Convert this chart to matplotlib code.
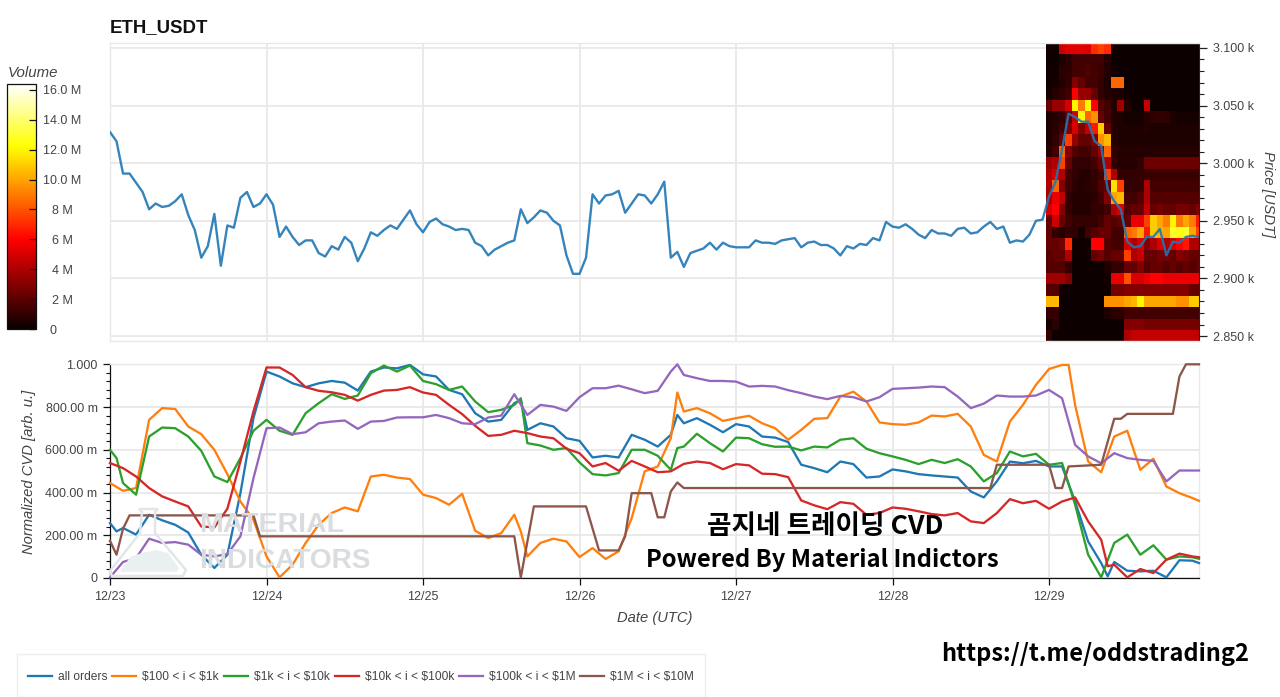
import numpy as np
import matplotlib
matplotlib.use('Agg')
import matplotlib.pyplot as plt
from matplotlib.colors import Normalize
from matplotlib.patches import Rectangle, Polygon

W, H = 1280, 697
GREY = '#444444'
GRID = '#e8e8e8'
plt.rcParams['font.family'] = ['Liberation Sans', 'DejaVu Sans']

# ---------- data ----------
DAY_LABELS = ['12/23', '12/24', '12/25', '12/26', '12/27', '12/28', '12/29']
PRICE = [3027,3019,2991,2991,2983,2975,2960,2965,2962,2963,2967,2973,2955,2942,2918,2928,2956,2911,2946,2944,
         2970,2975,2962,2965,2973,2964,2936,2945,2936,2929,2933,2933,2922,2919,2928,2925,2936,2931,2915,2926,
         2940,2937,2942,2946,2943,2951,2959,2947,2940,2949,2952,2947,2945,2942,2943,2942,2931,2928,2920,2925,
         2928,2931,2933,2960,2948,2953,2959,2957,2950,2946,2920,2904,2904,2918,2973,2965,2972,2973,2976,2957,
         2965,2973,2972,2965,2973,2984,2918,2923,2910,2922,2924,2926,2931,2925,2931,2928,2927,2927,2927,2933,
         2931,2931,2930,2933,2934,2935,2927,2931,2932,2929,2929,2926,2920,2928,2926,2930,2929,2935,2933,2949,
         2945,2944,2947,2943,2938,2935,2942,2939,2939,2937,2943,2944,2939,2940,2945,2949,2943,2945,2931,2933,
         2932,2938,2950,2951,2971,2984,3012,3043,3040,3036,3036,3019,3015,2977,2967,2960,2932,2927,2928,2936,
         2936,2943,2920,2932,2931,2936,2937,2936]

HEAT_PRICES = [3100 - 10 * i for i in range(26)]
HEAT_VOL = [
 [.2,.2,4.8,5.2,5.2,5.4,5.2,7,7.6,7,.2,.1,.1,.1,.1,.1,.1,.1,.1,.1,.1,.1,.1,.1],
 [.1,.1,.5,.8,1.4,1.4,1.4,1.4,1.4,.7,.1,.1,.1,.1,.1,.1,.1,.1,.1,.1,.1,.1,.1,.1],
 [.2,.2,.8,.9,1.4,1.4,1.7,1.4,1.2,.7,.3,.1,.1,.1,.1,.1,.1,.1,.1,.1,.1,.1,.1,.1],
 [.2,.3,.7,1,3,2.2,1.4,1.4,1,.5,8.5,8.5,.1,.1,.1,.1,.1,.1,.1,.1,.1,.1,.1,.1],
 [.3,.7,1,1.4,6,3.4,3.4,2.2,1,.7,.5,.5,.2,.1,.1,.2,.1,.1,.1,.1,.1,.1,.1,.1],
 [2.2,3.4,3.4,5,12,9,12,6,1.8,1.4,.7,3.6,.7,.1,.1,4.5,.1,.1,.1,.1,.1,.1,.1,.1],
 [.5,.7,1,2.2,4.8,12,8.5,9.5,2.2,1.4,.7,.5,.3,.3,.3,.7,.9,1,.9,.5,.3,.3,.3,.3],
 [.5,.8,1.4,3,5,3,4.5,6.5,11,2.2,.7,.5,.5,.5,.5,.7,.5,.5,.5,.5,.5,.5,.5,.5],
 [.5,1,2.2,7.5,3.4,2.2,2.2,3,9.5,10.5,.7,.5,.5,.5,.5,.5,.5,.5,.5,.5,.5,.5,.5,.5],
 [.7,1.4,8.5,3,1.8,1.4,1.4,2.2,3.4,8.5,1,.7,.7,.7,.7,.7,.7,.7,.7,.7,.7,.7,.7,.7],
 [3.6,4,7.5,2.2,1,1,1,1.4,2.2,4,1,.7,.7,.7,1,2.4,2.4,2.4,2.4,2.4,2.4,2.4,2.4,2.4],
 [4,5,4,1.4,1,.7,.7,1,1.4,7.5,4,1,1,1,1,1.2,1.2,1.2,1.2,1.2,1.2,1.2,1.2,1.2],
 [4,8.5,3,1.4,.8,.7,.8,1,1.8,2.2,11.5,7.5,1,1,1,4,1.4,1.4,1.4,1.4,1.4,1.4,1.4,1.4],
 [4,5.5,4.5,1,.7,.7,.7,.8,1.4,3,10,10.5,1.4,1.4,1.8,4,1.8,1.8,1.8,1.8,1.8,1.8,1.8,1.8],
 [5,6,3,1,.7,.7,.7,1,1,1.4,4,5,1.8,2.2,2.2,4.5,2.2,2.6,2.2,2.2,2.6,2.6,2.2,3],
 [2.2,4.8,2.2,1.4,1,1,1,1,1.4,2.2,1.8,2.2,2.2,5.5,5.5,7.5,11,10,9,12,9,10,9,6.5],
 [2.2,1,.7,1,1,.3,1.4,1.8,2.2,2.2,1.4,1.4,8.5,9,10,6.5,11,10.5,10,13,12.5,13,10,7.5],
 [2.2,2.2,2.6,7,.2,.1,.2,6,6,1.8,1.4,1.4,5,4,5,3,4,5,4,5,6,6.5,4,4],
 [1.8,2.2,2.2,4,.1,.1,.2,2.2,2.6,1.8,2.2,2.2,7.5,4,4.5,2.2,2.2,2.6,2.6,2.2,3,2.6,2.2,2.2],
 [1.8,1.8,1.8,1,.1,.1,.1,.1,.1,.5,1,1,2.2,2.2,3,1.8,2.2,2.2,1.8,2.2,1.8,2.2,1.8,2.2],
 [3.6,3.6,3.6,3,.1,.1,.1,.1,.1,.3,5.5,5.5,8,5,5,5.5,6,6,5.5,5.5,5.5,5.5,5.5,5.5],
 [1.8,1.8,.2,.1,.1,.1,.1,.1,.1,.2,2.6,2.6,3,3,3,3,3,3,3,3,3,3,2.2,2.2],
 [10.5,10.5,.1,.1,.1,.1,.1,.1,.1,9.5,9.5,9.5,10,10.5,12,10,10,10,10,10,9.5,9.5,11,11],
 [1,1,.1,.1,.1,.1,.1,.1,.1,.5,.8,.8,1.4,1.4,1.4,1.4,1.4,1.4,1.4,1.4,1.4,1.4,1.4,1.4],
 [.3,.8,.1,.1,.1,.1,.1,.1,.1,.1,.1,.1,3,3,3,2.6,2.6,2.6,2.6,2.6,2.6,2.6,2.6,2.6],
 [1,.1,.1,.1,.1,.1,.1,.1,.1,.1,.1,.1,4,4.5,4.5,4.5,4.5,4.5,4.5,4.5,4.5,4.5,4.5,4.5],
]

CVD_HOURS = list(range(0, 168, 2)) + [167]
ALL_ORDERS = [257,234,203,296,270,249,213,109,47,109,397,748,966,943,911,893,911,922,914,877,966,985,981,997,953,
              943,880,860,771,732,740,818,693,724,709,654,642,564,572,564,670,647,615,670,724,748,717,682,720,709,662,
              657,636,530,514,495,545,533,470,475,508,499,486,480,475,470,405,377,452,545,537,548,522,522,358,171,70,75,34,31,34,3,83,81,70]
USD_100_1K = [444,408,421,740,795,791,709,673,600,486,358,273,101,3,62,164,249,304,330,312,475,483,470,463,390,
              374,343,394,221,187,210,296,101,164,184,171,98,140,89,125,280,499,522,654,779,795,771,735,748,759,724,
              701,647,693,745,748,849,872,826,728,720,717,728,760,756,768,709,576,545,732,810,904,978,997,810,545,495,662,689,506,558,428,397,374,361]
USD_1K_10K = [600,444,390,662,704,701,662,595,475,449,561,689,740,689,670,771,818,860,838,854,958,994,966,994,922,
              907,880,896,826,776,787,810,631,620,600,608,541,486,480,491,600,600,572,506,615,675,631,592,657,654,626,
              614,615,597,615,611,647,654,605,584,569,553,533,553,538,556,522,452,491,592,569,581,530,538,343,109,3,164,203,109,153,86,101,97,90]
USD_10K_100K = [538,514,475,421,382,358,335,241,237,324,545,779,985,985,950,893,876,869,857,830,857,877,880,893,868,
                857,810,767,712,665,670,689,678,662,654,605,584,522,538,502,548,522,495,499,534,545,538,509,533,527,488,
                486,472,363,340,322,355,347,296,304,330,324,312,299,293,304,265,257,304,369,350,361,324,358,377,265,179,62,3,42,23,86,114,101,97]
USD_100K_1M = [3,75,93,184,164,168,156,109,101,112,195,467,701,704,673,682,724,732,737,698,732,735,751,752,752,
               763,748,724,720,751,760,860,763,810,802,782,846,888,888,900,883,865,876,966,950,935,922,922,919,896,899,
               896,879,865,849,837,852,846,826,846,885,888,891,896,893,849,795,816,854,849,849,854,880,841,623,569,537,584,561,553,548,452,503,503,503]

EXTRA_ALL_H, EXTRA_ALL_V = [1, 63, 87, 153], [218, 834, 763, 8]
EXTRA_100_H, EXTRA_100_V = [63, 87, 147], [218, 868, 997]
EXTRA_1K_H, EXTRA_1K_V = [1, 63, 87], [561, 841, 608]
EXTRA_10K_H, EXTRA_10K_V = [153], [55]
EXTRA_100K_H, EXTRA_100K_V = [87], [1000]

USD_1M_10M_HOURS = [0,1,2,3,22,23,62,63,65,73,75,78,79,80,83,84,85,86,87,88,135,136,144,145,146,147,152,154,155,156,163,164,165,167]
USD_1M_10M = [174,109,231,293,293,195,195,3,335,335,129,129,195,397,397,284,284,405,447,421,421,530,530,421,421,522,530,745,745,768,768,943,1000,1000]

SERIES_NAMES = ['all orders', r'\$100 < i < \$1k', r'\$1k < i < \$10k', r'\$10k < i < \$100k',
                r'\$100k < i < \$1M', r'\$1M < i < \$10M']
COLORS = ['#1f77b4', '#ff7f0e', '#2ca02c', '#d62728', '#9467bd', '#8c564b']
Y_LABELS = ['0', '200.00 m', '400.00 m', '600.00 m', '800.00 m', '1.000']
CB_TICKS = [0, 2, 4, 6, 8, 10, 12, 14, 16]
CB_LABELS = ['0', '2 M', '4 M', '6 M', '8 M', '10.0 M', '12.0 M', '14.0 M', '16.0 M']

def merged(base_h, base_v, extra_h=(), extra_v=()):
    pairs = sorted(zip(list(base_h) + list(extra_h), list(base_v) + list(extra_v)))
    return [p[0] for p in pairs], [p[1] / 1000 for p in pairs]

cvd = [merged(CVD_HOURS, ALL_ORDERS, EXTRA_ALL_H, EXTRA_ALL_V),
       merged(CVD_HOURS, USD_100_1K, EXTRA_100_H, EXTRA_100_V),
       merged(CVD_HOURS, USD_1K_10K, EXTRA_1K_H, EXTRA_1K_V),
       merged(CVD_HOURS, USD_10K_100K, EXTRA_10K_H, EXTRA_10K_V),
       merged(CVD_HOURS, USD_100K_1M, EXTRA_100K_H, EXTRA_100K_V),
       merged(USD_1M_10M_HOURS, USD_1M_10M)]

# ---------- layout helpers ----------
def axbox(l, t, r, b):
    return [l / W, 1 - b / H, (r - l) / W, (b - t) / H]
def fp(x, y):
    return (x / W, 1 - y / H)

fig = plt.figure(figsize=(W / 100, H / 100), dpi=100, facecolor='white')
ax1 = fig.add_axes(axbox(110, 43, 1199, 341))
ax2 = fig.add_axes(axbox(110, 364.3, 1199, 578))
cax = fig.add_axes(axbox(7, 84, 36, 329))

TICK_FS = 9.0
XLIM = (0, 167)
DAY_TICKS = [24 * i for i in range(7)]

# ---------- price + heat ----------
norm = Normalize(0, 16.4)
x_edges = np.arange(143.5, 143.5 + 25)
y_edges = [HEAT_PRICES[0] + 5 - 10 * i for i in range(27)]
mesh = ax1.pcolormesh(x_edges, y_edges, np.array(HEAT_VOL), cmap='hot', norm=norm, zorder=2, linewidth=0, rasterized=True)
ax1.plot(range(len(PRICE)), PRICE, color=COLORS[0], lw=1.7, alpha=0.9, zorder=3, solid_joinstyle='round')
ax1.set_xlim(*XLIM)
ax1.set_ylim(2845.7, 3104.3)
ax1.yaxis.tick_right()
ax1.yaxis.set_label_position('right')
ax1.set_yticks([2850, 2900, 2950, 3000, 3050, 3100])
ax1.set_yticklabels(['2.850 k', '2.900 k', '2.950 k', '3.000 k', '3.050 k', '3.100 k'], fontsize=TICK_FS, color=GREY)
ax1.set_yticks(np.arange(2850, 3101, 10), minor=True)
ax1.tick_params(axis='y', which='major', length=6, width=0.9, color='#222222', pad=4)
ax1.tick_params(axis='y', which='minor', length=3.5, width=0.8, color='#222222')
ax1.set_xticks(DAY_TICKS)
ax1.tick_params(axis='x', length=0, labelbottom=False)
ax1.grid(True, which='major', color=GRID, lw=1.3, zorder=0)
ax1.set_axisbelow(True)
for s in ('top', 'left', 'bottom'):
    ax1.spines[s].set_color(GRID)
    ax1.spines[s].set_linewidth(1.0)
ax1.spines['right'].set_color('#222222')
ax1.spines['right'].set_linewidth(0.8)
fig.text(*fp(1268, 194), 'Price [USDT]', rotation=-90, style='italic', fontsize=10.6, color=GREY, ha='center', va='center')
fig.text(*fp(110, 28), 'ETH_USDT', fontsize=13.4, fontweight='bold', color='#111111', ha='left', va='center')

# ---------- colour bar ----------
cb = fig.colorbar(mesh, cax=cax)
cb.outline.set_edgecolor('#111111')
cb.outline.set_linewidth(0.9)
cax.yaxis.set_ticks_position('right')
cb.set_ticks(CB_TICKS)
cb.set_ticklabels(CB_LABELS)
cax.minorticks_off()
cax.tick_params(axis='y', direction='in', length=5, width=0.9, color='#111111', pad=18.7, labelsize=TICK_FS, labelcolor=GREY)
for lab in cax.get_yticklabels():
    lab.set_ha('center')
cax.yaxis.get_major_ticks()[0].set_pad(11.9)
fig.text(*fp(33, 73), 'Volume', style='italic', fontsize=10.8, color=GREY, ha='center', va='center')

# ---------- watermark ----------
flask = [fp(*p) for p in [(139, 509), (158, 509), (155, 512), (155, 533), (186, 570), (183, 576), (112, 576), (110, 571), (140, 533), (142, 512)]]
mound = [fp(*p) for p in [(120, 572), (130, 557), (142, 553), (156, 550), (168, 553), (179, 568), (177, 572)]]
fig.add_artist(Polygon(flask, closed=True, transform=fig.transFigure, facecolor='none', edgecolor='#e2e6e8', lw=1.8, zorder=0.1))
fig.add_artist(Polygon(mound, closed=True, transform=fig.transFigure, facecolor='#eaf0f0', edgecolor='none', zorder=0.1))
ax2.patch.set_alpha(0)
ax1.patch.set_alpha(0)
fig.text(*fp(199, 525), 'MATERIAL', fontsize=20.5, fontweight='bold', color='#d9dde0', ha='left', va='center', zorder=0.1)
fig.text(*fp(199, 561), 'INDICATORS', fontsize=20.2, fontweight='bold', color='#d9dde0', ha='left', va='center', zorder=0.1)

# ---------- CVD ----------
for (hrs, vals), col, name in zip(cvd, COLORS, SERIES_NAMES):
    ax2.plot(hrs, vals, color=col, lw=1.65, label=name, clip_on=False, zorder=3, solid_joinstyle='round')
ax2.set_xlim(*XLIM)
ax2.set_ylim(0, 1)
ax2.set_xticks(DAY_TICKS)
ax2.set_xticklabels(DAY_LABELS, fontsize=TICK_FS, color=GREY)
ax2.set_yticks([0, .2, .4, .6, .8, 1.0])
ax2.set_yticklabels(Y_LABELS, fontsize=TICK_FS, color=GREY)
ax2.set_yticks(np.arange(0, 1.001, .04), minor=True)
ax2.tick_params(axis='y', which='major', length=5, width=0.9, color='#111111', pad=4)
ax2.tick_params(axis='y', which='minor', length=3, width=0.8, color='#111111')
ax2.tick_params(axis='x', which='major', length=5, width=0.9, color='#111111', pad=4)
ax2.grid(True, which='major', color=GRID, lw=1.3, zorder=0)
ax2.set_axisbelow(True)
for s in ('top', 'right'):
    ax2.spines[s].set_color(GRID)
    ax2.spines[s].set_linewidth(1.0)
for s in ('left', 'bottom'):
    ax2.spines[s].set_color('#111111')
    ax2.spines[s].set_linewidth(0.9)
fig.text(*fp(29, 472), 'Normalized CVD [arb. u.]', rotation=90, style='italic', fontsize=10.6, color=GREY, ha='center', va='center')
fig.text(*fp(655, 618), 'Date (UTC)', style='italic', fontsize=10.6, color=GREY, ha='center', va='center')

# ---------- legend ----------
fig.add_artist(Rectangle(fp(17, 697), 688 / W, 43 / H, transform=fig.transFigure, facecolor='white', edgecolor='#eeeeee', lw=1, zorder=0.2))
handles, labels = ax2.get_legend_handles_labels()
leg = fig.legend(handles, labels, loc='center left', bbox_to_anchor=fp(28, 677), ncol=6, frameon=False,
                 fontsize=8.65, handlelength=2.0, handletextpad=0.5, columnspacing=0.4, borderpad=0, borderaxespad=0)
leg.set_zorder(5)
for t in leg.get_texts():
    t.set_color(GREY)

# ---------- overlay text ----------
KO = ['Noto Sans CJK KR', 'DejaVu Sans']
fig.text(*fp(825, 527), '곰지네 트레이딩 CVD', family=KO, fontsize=19.2, fontweight='bold', color='black', ha='center', va='center', zorder=6)
fig.text(*fp(822, 560), 'Powered By Material Indictors', family=KO, fontsize=17.1, fontweight='bold', color='black', ha='center', va='center', zorder=6)
fig.text(*fp(1095, 654), 'https://t.me/oddstrading2', family=KO, fontsize=17, fontweight='bold', color='black', ha='center', va='center', zorder=6)

fig.savefig('out.png', dpi=100, facecolor='white')
